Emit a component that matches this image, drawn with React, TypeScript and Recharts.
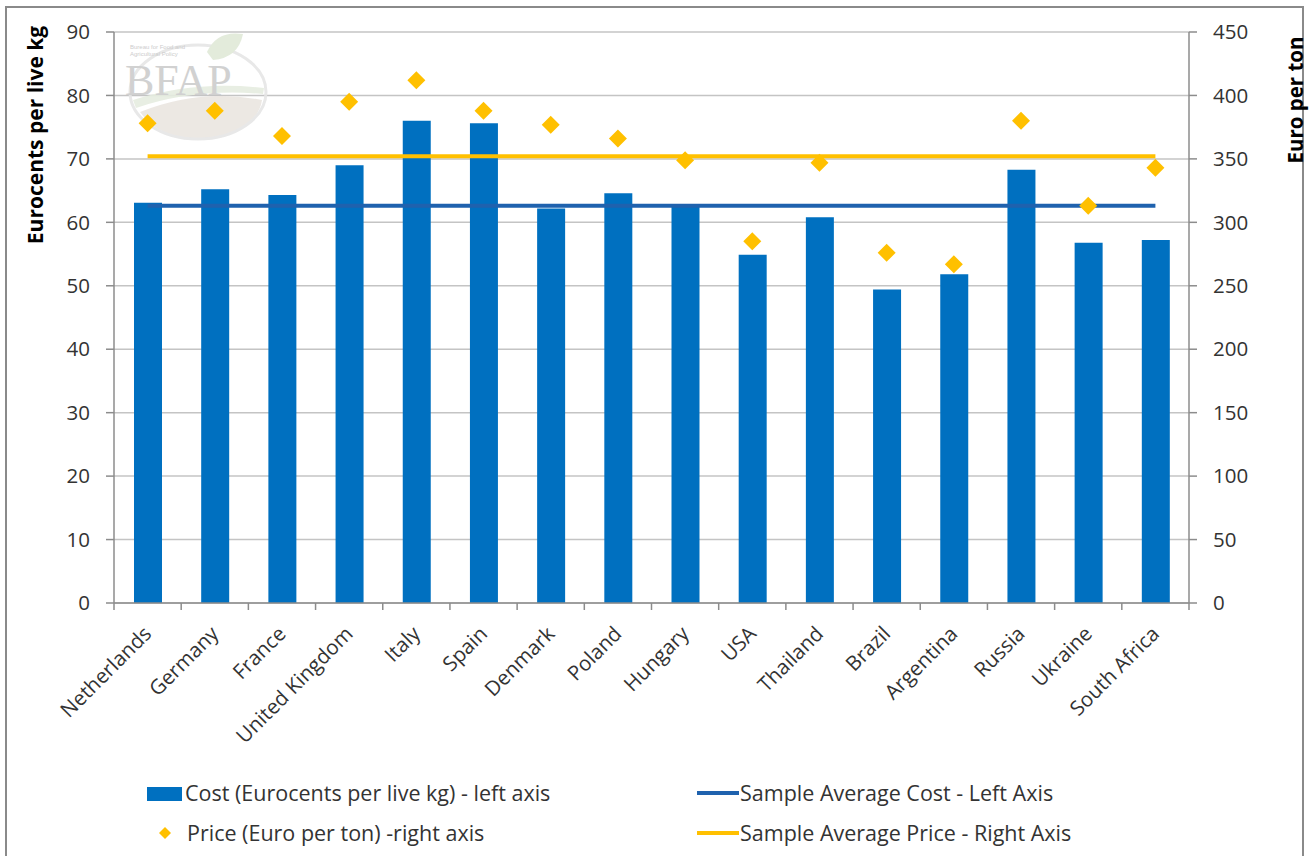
import React from "react";
import {
  ComposedChart,
  Bar,
  Line,
  Scatter,
  XAxis,
  YAxis,
  CartesianGrid,
  Legend,
  Customized,
} from "recharts";

// Production cost and producer price per country
const countries = [
  "Netherlands",
  "Germany",
  "France",
  "United Kingdom",
  "Italy",
  "Spain",
  "Denmark",
  "Poland",
  "Hungary",
  "USA",
  "Thailand",
  "Brazil",
  "Argentina",
  "Russia",
  "Ukraine",
  "South Africa",
];

// Eurocents per live kg (left axis)
const costValues = [63.1, 65.2, 64.3, 69.0, 76.0, 75.6, 62.2, 64.6, 62.8, 54.9, 60.8, 49.4, 51.8, 68.3, 56.8, 57.2];

// Euro per ton (right axis)
const priceValues = [378, 388, 368, 395, 412, 388, 377, 366, 349, 285, 347, 276, 267, 380, 313, 343];

// Sample averages
const sampleAverageCost = 62.6;
const sampleAveragePrice = 352;

const leftTicks = [0, 10, 20, 30, 40, 50, 60, 70, 80, 90];
const rightTicks = [0, 50, 100, 150, 200, 250, 300, 350, 400, 450];

const rows = countries.map((country, i) => ({
  country,
  cost: costValues[i],
  price: priceValues[i],
  avgCost: sampleAverageCost,
  avgPrice: sampleAveragePrice,
}));

const FONT = "'Open Sans', Lato, sans-serif";
const BAR_BLUE = "#0070C0";
const LINE_BLUE = "#1F62AE";
const GOLD = "#FFC000";
const AXIS_GREY = "#8C8C8C";
const TEXT = "#333333";

const CountryTick = (props: any) => {
  const { x, y, payload, index } = props;
  const half = payload && typeof payload.offset === "number" ? payload.offset : 33.6;
  const last = index === countries.length - 1;
  return (
    <g>
      <line x1={x - half} y1={y} x2={x - half} y2={y + 7} stroke={AXIS_GREY} strokeWidth={1.5} />
      {last && <line x1={x + half} y1={y} x2={x + half} y2={y + 7} stroke={AXIS_GREY} strokeWidth={1.5} />}
      <text
        transform={`translate(${x}, ${y + 27}) rotate(-45)`}
        textAnchor="end"
        dy="0.35em"
        fontSize={20.5}
        fontFamily={FONT}
        fill={TEXT}
      >
        {payload.value}
      </text>
    </g>
  );
};

const DiamondMark = (props: any) => {
  const { cx, cy } = props;
  if (cx == null || cy == null) return null;
  const r = 9;
  return (
    <polygon
      points={`${cx},${cy - r} ${cx + r},${cy} ${cx},${cy + r} ${cx - r},${cy}`}
      fill={GOLD}
    />
  );
};

// Faint BFAP watermark in the upper-left of the plot
const Watermark = () => (
  <g opacity={0.9} pointerEvents="none">
    <path d="M 140 112 Q 200 88 262 100 Q 258 130 205 140 Q 160 140 140 112 Z" fill="#ebe6e1" />
    <path d="M 133 100 Q 195 80 264 88 L 263 94 Q 195 88 136 108 Z" fill="#e6ede0" />
    <ellipse cx={198} cy={92} rx={68} ry={47} fill="none" stroke="#e6e6e6" strokeWidth={3} />
    <path d="M 207 52 Q 217 30 243 34 Q 238 58 213 60 Z" fill="#e0e9d8" />
    <text x={130} y={49} fontSize={6} fill="#c8c8c8" fontFamily="'Liberation Sans', sans-serif">
      Bureau for Food and
    </text>
    <text x={130} y={56} fontSize={6} fill="#c8c8c8" fontFamily="'Liberation Sans', sans-serif">
      Agricultural Policy
    </text>
    <text x={125} y={95} fontSize={44} fill="#cdcdcd" fontFamily="'Liberation Serif', serif">
      BFAP
    </text>
  </g>
);

const LegendBox = () => {
  const label: React.CSSProperties = {
    position: "absolute",
    fontSize: 21.5,
    fontFamily: FONT,
    color: TEXT,
    lineHeight: "24px",
    whiteSpace: "nowrap",
  };
  return (
    <div style={{ position: "relative", width: 1310, height: 80 }}>
      <div style={{ position: "absolute", left: 147, top: 17, width: 35, height: 14, background: BAR_BLUE }} />
      <div style={{ ...label, left: 185, top: 11 }}>Cost (Eurocents per live kg) - left axis</div>

      <svg style={{ position: "absolute", left: 158, top: 56 }} width={14} height={14}>
        <polygon points="7,1 13,7 7,13 1,7" fill={GOLD} />
      </svg>
      <div style={{ ...label, left: 187, top: 51 }}>Price (Euro per ton) -right axis</div>

      <div style={{ position: "absolute", left: 697, top: 21, width: 42, height: 4, background: LINE_BLUE }} />
      <div style={{ ...label, left: 740, top: 11 }}>Sample Average Cost - Left Axis</div>

      <div style={{ position: "absolute", left: 697, top: 61, width: 42, height: 4, background: GOLD }} />
      <div style={{ ...label, left: 740, top: 51 }}>Sample Average Price - Right Axis</div>
    </div>
  );
};

export default function App() {
  return (
    <div style={{ position: "relative", width: 1310, height: 856, background: "#fff", overflow: "hidden" }}>
      <style>{`body{margin:0;}`}</style>
      <div
        style={{
          position: "absolute",
          left: 5,
          top: 6,
          width: 1299,
          height: 900,
          border: "2px solid #8a8a8a",
          boxSizing: "border-box",
        }}
      />
      <div style={{ position: "absolute", left: 0, top: 0 }}>
        <ComposedChart
          width={1310}
          height={856}
          data={rows}
          margin={{ top: 32, right: 0, bottom: 6, left: 0 }}
        >
          <CartesianGrid yAxisId="left" vertical={false} stroke="#c4c4c4" strokeWidth={1.5} />
          <Customized component={Watermark} />
          <XAxis
            dataKey="country"
            interval={0}
            height={167}
            tickSize={0}
            tickMargin={0}
            tickLine={false}
            axisLine={{ stroke: AXIS_GREY, strokeWidth: 1.5 }}
            tick={<CountryTick />}
          />
          <YAxis
            yAxisId="left"
            orientation="left"
            width={114}
            domain={[0, 90]}
            ticks={leftTicks}
            interval={0}
            tickSize={8}
            tickMargin={16}
            axisLine={{ stroke: AXIS_GREY, strokeWidth: 1.5 }}
            tickLine={{ stroke: AXIS_GREY, strokeWidth: 1.5 }}
            tick={{ fontSize: 20.5, fontFamily: FONT, fill: TEXT }}
            label={{
              content: ({ viewBox }: any) => (
                <text
                  x={viewBox.x + 35}
                  y={viewBox.y + 103}
                  transform={`rotate(-90, ${viewBox.x + 35}, ${viewBox.y + 103})`}
                  textAnchor="middle"
                  dominantBaseline="central"
                  fontSize={21}
                  fontWeight="bold"
                  fontFamily={FONT}
                  fill="#000"
                >
                  Eurocents per live kg
                </text>
              ),
            }}
          />
          <YAxis
            yAxisId="right"
            orientation="right"
            width={121}
            domain={[0, 450]}
            ticks={rightTicks}
            interval={0}
            tickSize={8}
            tickMargin={16}
            axisLine={{ stroke: AXIS_GREY, strokeWidth: 1.5 }}
            tickLine={{ stroke: AXIS_GREY, strokeWidth: 1.5 }}
            tick={{ fontSize: 20.5, fontFamily: FONT, fill: TEXT, textAnchor: "start" }}
            label={{
              content: ({ viewBox }: any) => (
                <text
                  x={viewBox.x + 106}
                  y={viewBox.y + 68}
                  transform={`rotate(-90, ${viewBox.x + 106}, ${viewBox.y + 68})`}
                  textAnchor="middle"
                  dominantBaseline="central"
                  fontSize={20.5}
                  fontWeight="bold"
                  fontFamily={FONT}
                  fill="#000"
                >
                  Euro per ton
                </text>
              ),
            }}
          />
          <Bar
            yAxisId="left"
            dataKey="cost"
            name="Cost (Eurocents per live kg) - left axis"
            fill={BAR_BLUE}
            barSize={28}
            isAnimationActive={false}
          />
          <Line
            yAxisId="left"
            dataKey="avgCost"
            name="Sample Average Cost - Left Axis"
            stroke={LINE_BLUE}
            strokeWidth={4}
            dot={false}
            activeDot={false}
            isAnimationActive={false}
          />
          <Line
            yAxisId="right"
            dataKey="avgPrice"
            name="Sample Average Price - Right Axis"
            stroke={GOLD}
            strokeWidth={4}
            dot={false}
            activeDot={false}
            isAnimationActive={false}
          />
          <Scatter
            yAxisId="right"
            dataKey="price"
            name="Price (Euro per ton) -right axis"
            fill={GOLD}
            shape={<DiamondMark />}
            isAnimationActive={false}
          />
          <Legend
            verticalAlign="bottom"
            align="left"
            content={<LegendBox />}
            wrapperStyle={{ left: 0, width: 1310, height: 80 }}
          />
        </ComposedChart>
      </div>
    </div>
  );
}
